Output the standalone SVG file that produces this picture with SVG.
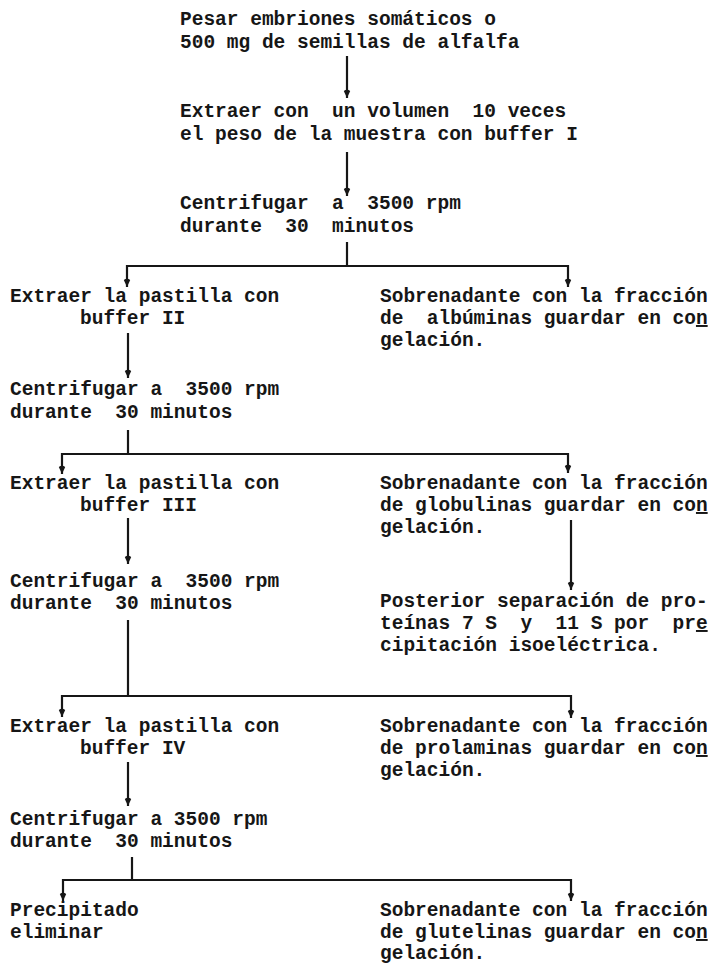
<svg xmlns="http://www.w3.org/2000/svg" width="720" height="968" viewBox="0 0 720 968" xml:space="preserve">
<style>
text{font-family:"Liberation Mono","Courier New",monospace;font-size:19.5px;font-weight:bold;fill:#161616;white-space:pre}
.c{stroke:#161616;stroke-width:2.2;fill:none}
.u{text-decoration:underline}
</style>
<defs>
<marker id="ah" markerUnits="userSpaceOnUse" markerWidth="10" markerHeight="8" refX="10" refY="4" orient="auto-start-reverse" viewBox="0 0 10 8">
<path d="M10,4 L3,0.8 Q0.5,4 3,7.2 Z" fill="#161616"/>
</marker>
</defs>
<rect width="720" height="968" fill="#fff"/>
<g id="connectors">
<line class="c" x1="347" y1="56" x2="347" y2="98" marker-end="url(#ah)"/>
<line class="c" x1="347" y1="152" x2="347" y2="196" marker-end="url(#ah)"/>
<line class="c" x1="347" y1="242" x2="347" y2="266"/>
<polyline class="c" points="127,287 127,266 568,266 568,287" marker-start="url(#ah)" marker-end="url(#ah)"/>
<line class="c" x1="128" y1="333" x2="128" y2="378" marker-end="url(#ah)"/>
<line class="c" x1="128" y1="430" x2="128" y2="454"/>
<polyline class="c" points="62,474 62,454 568,454 568,473" marker-start="url(#ah)" marker-end="url(#ah)"/>
<line class="c" x1="128" y1="518" x2="128" y2="564" marker-end="url(#ah)"/>
<line class="c" x1="571" y1="520" x2="571" y2="590" marker-end="url(#ah)"/>
<line class="c" x1="128" y1="620" x2="128" y2="696"/>
<polyline class="c" points="62,717 62,696 571,696 571,718" marker-start="url(#ah)" marker-end="url(#ah)"/>
<line class="c" x1="128" y1="762" x2="128" y2="806" marker-end="url(#ah)"/>
<line class="c" x1="132" y1="857" x2="132" y2="880"/>
<polyline class="c" points="63,901 63,880 571,880 571,901" marker-start="url(#ah)" marker-end="url(#ah)"/>
</g>
<g id="n1">
<text x="180" y="25">Pesar embriones somáticos o</text>
<text x="180" y="48">500 mg de semillas de alfalfa</text>
</g>
<g id="n2">
<text x="180" y="117">Extraer con  un volumen  10 veces</text>
<text x="180" y="140">el peso de la muestra con buffer I</text>
</g>
<g id="n3">
<text x="180" y="209">Centrifugar  a  3500 rpm</text>
<text x="180" y="232">durante  30  minutos</text>
</g>
<g id="n4">
<text x="10" y="302">Extraer la pastilla con</text>
<text x="80" y="324">buffer II</text>
</g>
<g id="n5">
<text x="380" y="302">Sobrenadante con la fracción</text>
<text x="380" y="324">de  albúminas guardar en co<tspan class="u">n</tspan></text>
<text x="380" y="346">gelación.</text>
</g>
<g id="n6">
<text x="10" y="395">Centrifugar a  3500 rpm</text>
<text x="10" y="418">durante  30 minutos</text>
</g>
<g id="n7">
<text x="10" y="489">Extraer la pastilla con</text>
<text x="80" y="511">buffer III</text>
</g>
<g id="n8">
<text x="380" y="489">Sobrenadante con la fracción</text>
<text x="380" y="511">de globulinas guardar en co<tspan class="u">n</tspan></text>
<text x="380" y="533">gelación.</text>
</g>
<g id="n9">
<text x="10" y="587">Centrifugar a  3500 rpm</text>
<text x="10" y="609">durante  30 minutos</text>
</g>
<g id="n10">
<text x="380" y="607">Posterior separación de pro-</text>
<text x="380" y="629">teínas 7 S  y  11 S por  pr<tspan class="u">e</tspan></text>
<text x="380" y="651">cipitación isoeléctrica.</text>
</g>
<g id="n11">
<text x="10" y="732">Extraer la pastilla con</text>
<text x="80" y="754">buffer IV</text>
</g>
<g id="n12">
<text x="380" y="732">Sobrenadante con la fracción</text>
<text x="380" y="754">de prolaminas guardar en co<tspan class="u">n</tspan></text>
<text x="380" y="776">gelación.</text>
</g>
<g id="n13">
<text x="10" y="825">Centrifugar a 3500 rpm</text>
<text x="10" y="847">durante  30 minutos</text>
</g>
<g id="n14">
<text x="10" y="916">Precipitado</text>
<text x="10" y="938">eliminar</text>
</g>
<g id="n15">
<text x="380" y="916">Sobrenadante con la fracción</text>
<text x="380" y="938">de glutelinas guardar en co<tspan class="u">n</tspan></text>
<text x="380" y="959">gelación.</text>
</g>
</svg>
